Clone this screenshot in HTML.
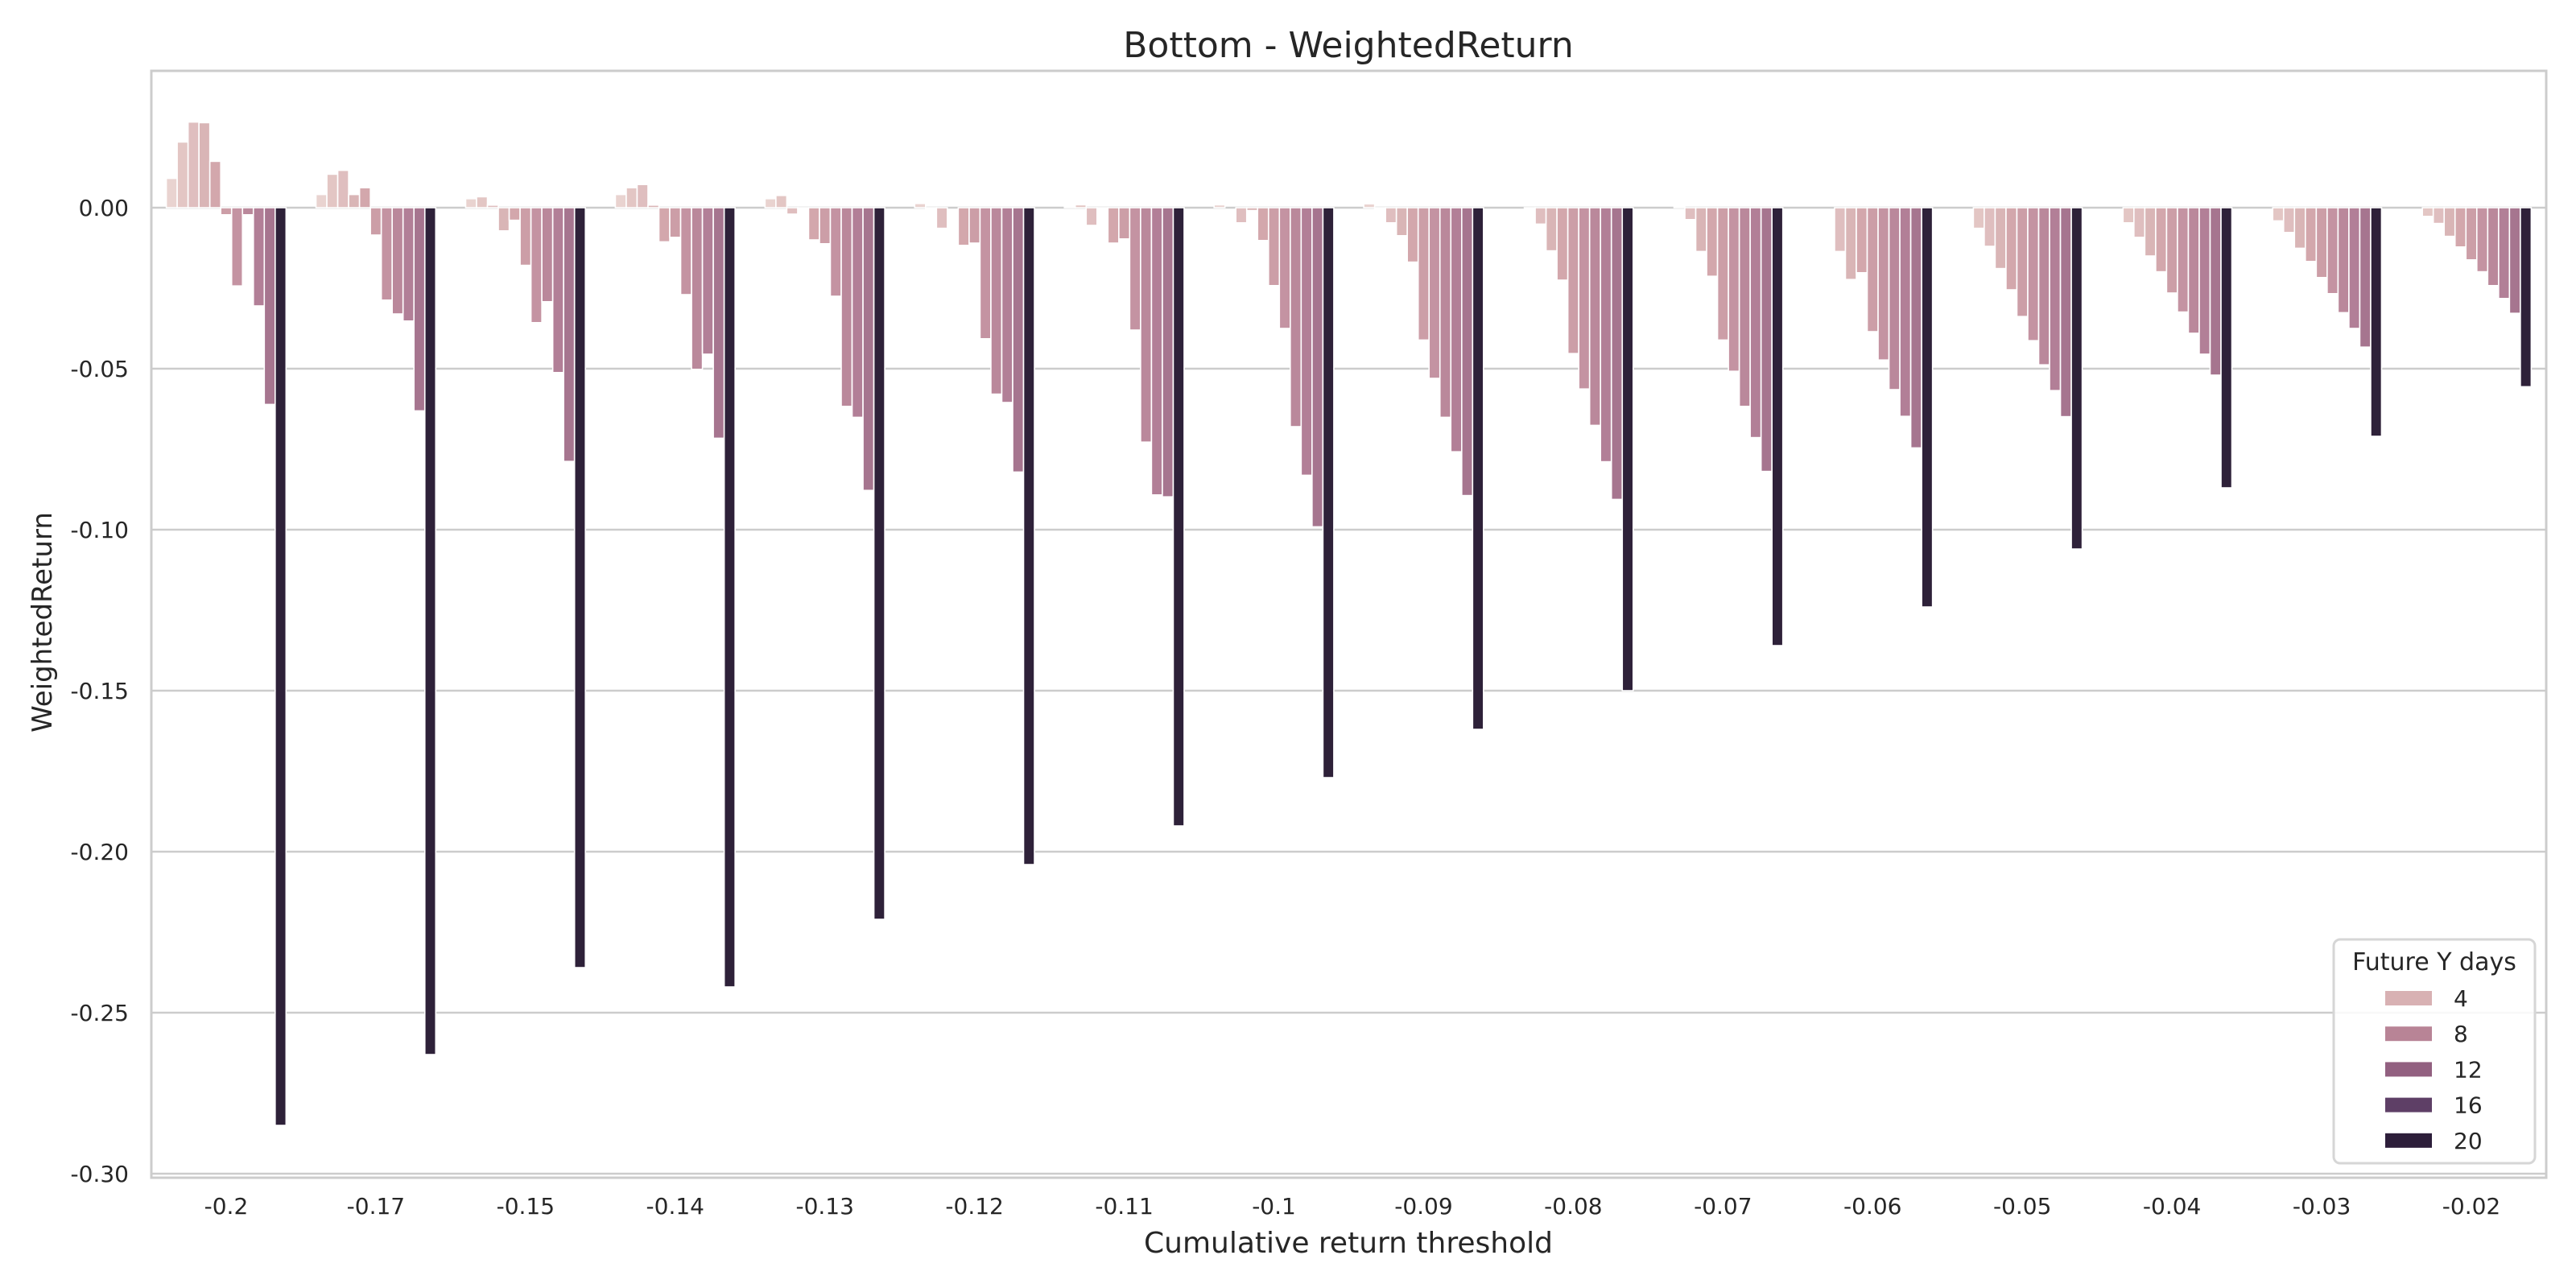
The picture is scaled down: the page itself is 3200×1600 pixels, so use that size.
<!DOCTYPE html>
<html><head><meta charset="utf-8"><style>
html,body{margin:0;padding:0;background:#fff;}
svg{display:block;font-family:"DejaVu Sans","Liberation Sans",sans-serif;}
</style></head><body>
<svg id="chart" width="3200" height="1600" viewBox="0 0 3200 1600" xmlns="http://www.w3.org/2000/svg">
<rect x="0" y="0" width="3200" height="1600" fill="#fff"/>
<text x="1675" y="71" font-size="44" text-anchor="middle" fill="#262626">Bottom - WeightedReturn</text>
<g id="grid"></g>
<g id="bars"></g>
<rect x="188" y="88" width="2975" height="1375" fill="none" stroke="#cccccc" stroke-width="3"/>
<g id="yticks"></g>
<g id="xticks"></g>
<text x="1675" y="1556" font-size="36" text-anchor="middle" fill="#262626">Cumulative return threshold</text>
<text transform="translate(64,773) rotate(-90)" font-size="34" text-anchor="middle" fill="#262626">WeightedReturn</text>
<g>
<rect x="2899" y="1167" width="250" height="278" rx="8" fill="#ffffff" fill-opacity="0.85" stroke="#d6d6d6" stroke-width="3"/>
<text x="3024" y="1205" font-size="30" text-anchor="middle" fill="#262626">Future Y days</text>
<g id="legendEntries"></g>
</g>
</svg>
<script>
const categories = ["-0.2","-0.17","-0.15","-0.14","-0.13","-0.12","-0.11","-0.1","-0.09","-0.08","-0.07","-0.06","-0.05","-0.04","-0.03","-0.02"];
const hues = [1,2,3,4,5,6,7,8,9,10,20];
const h1 = [0.0091,0.0041,0.0028,0.0041,0.0028,0.0013,0.0004,0.0009,0.0012,0,0,0,0,0,0,0];
const h2 = [0.0204,0.0104,0.0034,0.0062,0.0038,-0.0002,0.0009,0,-0.0002,-0.0002,0.0004,0,-0.0064,-0.0047,-0.0041,-0.0027];
const h3 = [0.0266,0.0116,0.0008,0.0072,-0.0020,-0.0064,-0.0055,-0.0047,-0.0047,-0.0051,-0.0037,-0.0136,-0.0120,-0.0092,-0.0077,-0.0049];
const h4 = [0.0264,0.0041,-0.0072,0.0008,-0.0002,0,-0.0003,-0.0009,-0.0087,-0.0134,-0.0136,-0.0223,-0.0189,-0.0150,-0.0126,-0.0089];
const h5 = [0.0144,0.0062,-0.0039,-0.0106,-0.0100,-0.0117,-0.0110,-0.0102,-0.0169,-0.0225,-0.0213,-0.0202,-0.0255,-0.0199,-0.0167,-0.0122];
const h6 = [-0.0022,-0.0085,-0.0179,-0.0092,-0.0112,-0.0110,-0.0097,-0.0242,-0.0411,-0.0453,-0.0411,-0.0385,-0.0338,-0.0265,-0.0217,-0.0162];
const h7 = [-0.0243,-0.0287,-0.0357,-0.0270,-0.0275,-0.0407,-0.0380,-0.0375,-0.0530,-0.0563,-0.0508,-0.0473,-0.0413,-0.0324,-0.0267,-0.0199];
const h8 = [-0.0022,-0.0330,-0.0292,-0.0502,-0.0617,-0.0579,-0.0728,-0.0680,-0.0651,-0.0676,-0.0617,-0.0565,-0.0488,-0.0390,-0.0326,-0.0242];
const h9 = [-0.0305,-0.0352,-0.0512,-0.0455,-0.0651,-0.0605,-0.0892,-0.0831,-0.0758,-0.0789,-0.0714,-0.0648,-0.0568,-0.0455,-0.0375,-0.0282];
const h10 = [-0.0611,-0.0631,-0.0788,-0.0716,-0.0878,-0.0821,-0.0898,-0.0991,-0.0894,-0.0906,-0.0819,-0.0746,-0.0649,-0.0520,-0.0433,-0.0328];
const h20 = [-0.285,-0.263,-0.236,-0.242,-0.221,-0.204,-0.192,-0.177,-0.162,-0.150,-0.136,-0.124,-0.106,-0.087,-0.071,-0.0556];
const yTicks = [0,-0.05,-0.10,-0.15,-0.20,-0.25,-0.30];
const yTickLabels = ["0.00","-0.05","-0.10","-0.15","-0.20","-0.25","-0.30"];
const legendValues = [4,8,12,16,20];
const legendLabels = ["4","8","12","16","20"];

const series = [h1,h2,h3,h4,h5,h6,h7,h8,h9,h10,h20];
const hueColors = ["#e9d3d0","#e3c6c4","#dfbebf","#d9b5b6","#d3a7ac","#cc9ea7","#c493a2","#ba889b","#b27f97","#a6758f","#2e2139"];
const legendColors = {4:"#d8b1b3",8:"#b88496",12:"#926080",16:"#5e3f66",20:"#2d1e3a"};
const NS = "http://www.w3.org/2000/svg";
const X0 = 188, X1 = 3163, Y_ZERO = 258, PX_PER_UNIT = 4000;
const band = (X1 - X0) / categories.length;
function xCenter(i){ return X0 + band * (i + 0.5); }
function yScale(v){ return Y_ZERO - v * PX_PER_UNIT; }
const barW = band * 0.8 / hues.length;

const grid = document.getElementById('grid');
const yt = document.getElementById('yticks');
yTicks.forEach((t, k) => {
  const y = yScale(t);
  const l = document.createElementNS(NS, 'line');
  l.setAttribute('x1', X0); l.setAttribute('x2', X1);
  l.setAttribute('y1', y); l.setAttribute('y2', y);
  l.setAttribute('stroke', '#cccccc'); l.setAttribute('stroke-width', '2.5');
  
  
  grid.appendChild(l);
  const tx = document.createElementNS(NS, 'text');
  tx.setAttribute('x', 160); tx.setAttribute('y', y + 10);
  tx.setAttribute('font-size', '28'); tx.setAttribute('text-anchor', 'end'); tx.setAttribute('fill', '#262626');
  tx.textContent = yTickLabels[k];
  
  
  yt.appendChild(tx);
});

const xt = document.getElementById('xticks');
categories.forEach((c, i) => {
  const tx = document.createElementNS(NS, 'text');
  tx.setAttribute('x', xCenter(i)); tx.setAttribute('y', 1508);
  tx.setAttribute('font-size', '28'); tx.setAttribute('text-anchor', 'middle'); tx.setAttribute('fill', '#262626');
  tx.textContent = c;
  
  
  xt.appendChild(tx);
});

const bars = document.getElementById('bars');
series.forEach((vals, j) => {
  vals.forEach((v, i) => {
    const x = xCenter(i) - band * 0.4 + j * barW;
    const y0 = yScale(0), y1 = yScale(v);
    const r = document.createElementNS(NS, 'rect');
    r.setAttribute('x', x); r.setAttribute('width', barW);
    r.setAttribute('y', Math.min(y0, y1)); r.setAttribute('height', Math.abs(y1 - y0));
    r.setAttribute('fill', hueColors[j]);
    r.setAttribute('stroke', '#ffffff'); r.setAttribute('stroke-width', '1.6');
    
    
    bars.appendChild(r);
  });
});

const le = document.getElementById('legendEntries');
legendValues.forEach((v, k) => {
  const cy = 1240 + k * 44.2;
  const r = document.createElementNS(NS, 'rect');
  r.setAttribute('x', 2963); r.setAttribute('y', cy - 9); r.setAttribute('width', 58); r.setAttribute('height', 18);
  r.setAttribute('fill', legendColors[v]);
  
  
  le.appendChild(r);
  const t = document.createElementNS(NS, 'text');
  t.setAttribute('x', 3048); t.setAttribute('y', cy + 10);
  t.setAttribute('font-size', '28'); t.setAttribute('fill', '#262626');
  t.textContent = legendLabels[k];
  
  
  le.appendChild(t);
});
</script>
</body></html>
